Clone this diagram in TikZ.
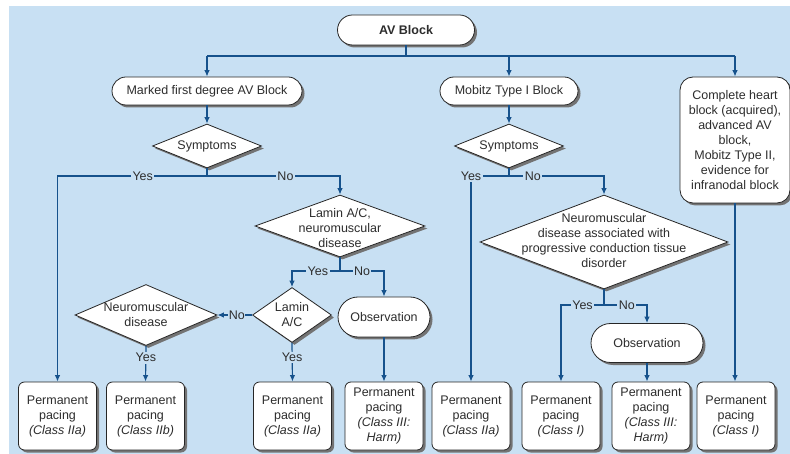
\documentclass[tikz,border=0pt]{standalone}
\usepackage{fontspec}
\setmainfont{Liberation Sans}
\usetikzlibrary{arrows.meta,shapes.geometric,shapes.misc,shadows}
\definecolor{bgblue}{RGB}{200,224,243}
\definecolor{lineblue}{RGB}{22,82,140}
\definecolor{txt}{RGB}{45,45,45}
\begin{document}
\begin{tikzpicture}[x=1pt,y=-1pt,
  base/.style={draw=black!85, line width=0.8pt, fill=white, text=txt,
    font=\fontsize{12.5}{15}\selectfont, align=center, inner sep=0pt,
    drop shadow={shadow xshift=2.5pt,shadow yshift=-2.5pt,fill=black!55,opacity=1}},
  pill/.style={base, rounded rectangle},
  pbox/.style={base, rectangle, rounded corners=6pt, minimum width=78pt, minimum height=68pt},
  dia/.style={base, diamond},
  dtext/.style={text=txt, font=\fontsize{12.5}{15}\selectfont, align=center, inner sep=0pt},
  conn/.style={draw=lineblue, line width=1.2pt},
  arr/.style={conn, -{Latex[length=6.5pt,width=5.5pt]}},
  lbl/.style={fill=bgblue, text=txt, font=\fontsize{12.5}{14}\selectfont, inner sep=1.5pt}
]
\useasboundingbox (0,0) rectangle (790,454);
\fill[bgblue] (9,6) rectangle (790,454);

% top level
\node[pill, minimum width=137pt, minimum height=30pt, font=\fontsize{12.5}{15}\selectfont\bfseries] (av) at (406,30) {AV Block};
\node[pill, minimum width=190pt, minimum height=28pt] (mfd) at (207,91) {Marked first degree AV Block};
\node[pill, minimum width=138pt, minimum height=28pt] (mob) at (509,91) {Mobitz Type I Block};
\node[base, rectangle, rounded corners=13pt, minimum width=110pt, minimum height=126pt] (chb) at (735,140)
  {Complete heart\\block (acquired),\\advanced AV\\block,\\Mobitz Type II,\\evidence for\\infranodal block};

% decisions
\node[dia, minimum width=109pt, minimum height=44pt, label={[dtext]center:Symptoms}] (s1) at (207,146) {};
\node[dia, minimum width=109pt, minimum height=44pt, label={[dtext]center:Symptoms}] (s2) at (509,146) {};
\node[dia, minimum width=170pt, minimum height=62pt, label={[dtext,yshift=-2pt]center:{Lamin A/C,\\neuromuscular\\disease}}] (lnd) at (340,226) {};
\node[dia, minimum width=79pt, minimum height=55pt, label={[dtext]center:{Lamin\\A/C}}] (lac) at (292,315) {};
\node[dia, minimum width=142pt, minimum height=61pt, label={[dtext]center:{Neuromuscular\\disease}}] (nmd) at (146,315) {};
\node[dia, minimum width=248pt, minimum height=94pt, label={[dtext,yshift=1pt]center:{Neuromuscular\\disease associated with\\progressive conduction tissue\\disorder}}] (nmp) at (604,242) {};

% observations
\node[pill, minimum width=92pt, minimum height=40pt] (obs1) at (384,317) {Observation};
\node[pill, minimum width=112pt, minimum height=39pt] (obs2) at (647,343) {Observation};

% outcomes
\node[pbox] (b1) at (57.5,416) {Permanent\\pacing\\\textit{(Class IIa)}};
\node[pbox] (b2) at (145.5,416) {Permanent\\pacing\\\textit{(Class IIb)}};
\node[pbox] (b3) at (292.5,416) {Permanent\\pacing\\\textit{(Class IIa)}};
\node[pbox] (b4) at (384,416) {Permanent\\pacing\\\textit{(Class III:}\\\textit{Harm)}};
\node[pbox] (b5) at (471,416) {Permanent\\pacing\\\textit{(Class IIa)}};
\node[pbox] (b6) at (561,416) {Permanent\\pacing\\\textit{(Class I)}};
\node[pbox] (b7) at (651,416) {Permanent\\pacing\\\textit{(Class III:}\\\textit{Harm)}};
\node[pbox] (b8) at (736,416) {Permanent\\pacing\\\textit{(Class I)}};

% junctions
\coordinate (bus) at (406,56);
\coordinate (j1) at (207,176);
\coordinate (j2) at (340,271);
\coordinate (j3) at (509,176);
\coordinate (j4) at (604,305);

% connectors
\draw[conn] (av.south) -- (bus);
\draw[conn] (bus -| mfd) -- (bus -| chb);
\draw[arr] (bus -| mfd) -- (mfd.north);
\draw[arr] (bus -| mob) -- (mob.north);
\draw[arr] (bus -| chb) -- (chb.north);

\draw[arr] (mfd.south) -- (s1.north);
\draw[conn] (s1.south) -- (j1);
\draw[arr] (j1) -- node[lbl,pos=0.43]{Yes} (j1 -| b1) -- (b1.north);
\draw[arr] (j1) -- node[lbl,pos=0.59]{No} (j1 -| lnd) -- (lnd.north);

\draw[conn] (lnd.south) -- (j2);
\draw[arr] (j2) -- node[lbl,pos=0.46]{Yes} (j2 -| lac) -- (lac.north);
\draw[arr] (j2) -- node[lbl,pos=0.5]{No} (j2 -| obs1) -- (obs1.north);

\draw[arr] (lac.west) -- node[lbl,pos=0.44,inner sep=0.5pt]{No} (nmd.east);
\draw[arr] (nmd.south) -- node[lbl,pos=0.33]{Yes} (b2.north);
\draw[arr] (lac.south) -- node[lbl,pos=0.38]{Yes} (b3.north);
\draw[arr] (obs1.south) -- (b4.north);

\draw[arr] (mob.south) -- (s2.north);
\draw[conn] (s2.south) -- (j3);
\draw[arr] (j3) -- (j3 -| b5) node[lbl]{Yes} -- (b5.north);
\draw[arr] (j3) -- node[lbl,pos=0.25]{No} (j3 -| nmp) -- (nmp.north);

\draw[conn] (nmp.south) -- (j4);
\draw[arr] (j4) -- node[lbl,pos=0.5]{Yes} (j4 -| b6) -- (b6.north);
\draw[arr] (j4) -- node[lbl,pos=0.53]{No} (j4 -| obs2) -- (obs2.north);
\draw[arr] (obs2.south) -- (obs2.south |- b7.north);

\draw[arr] (chb.south) -- (chb.south |- b8.north);
\end{tikzpicture}
\end{document}
